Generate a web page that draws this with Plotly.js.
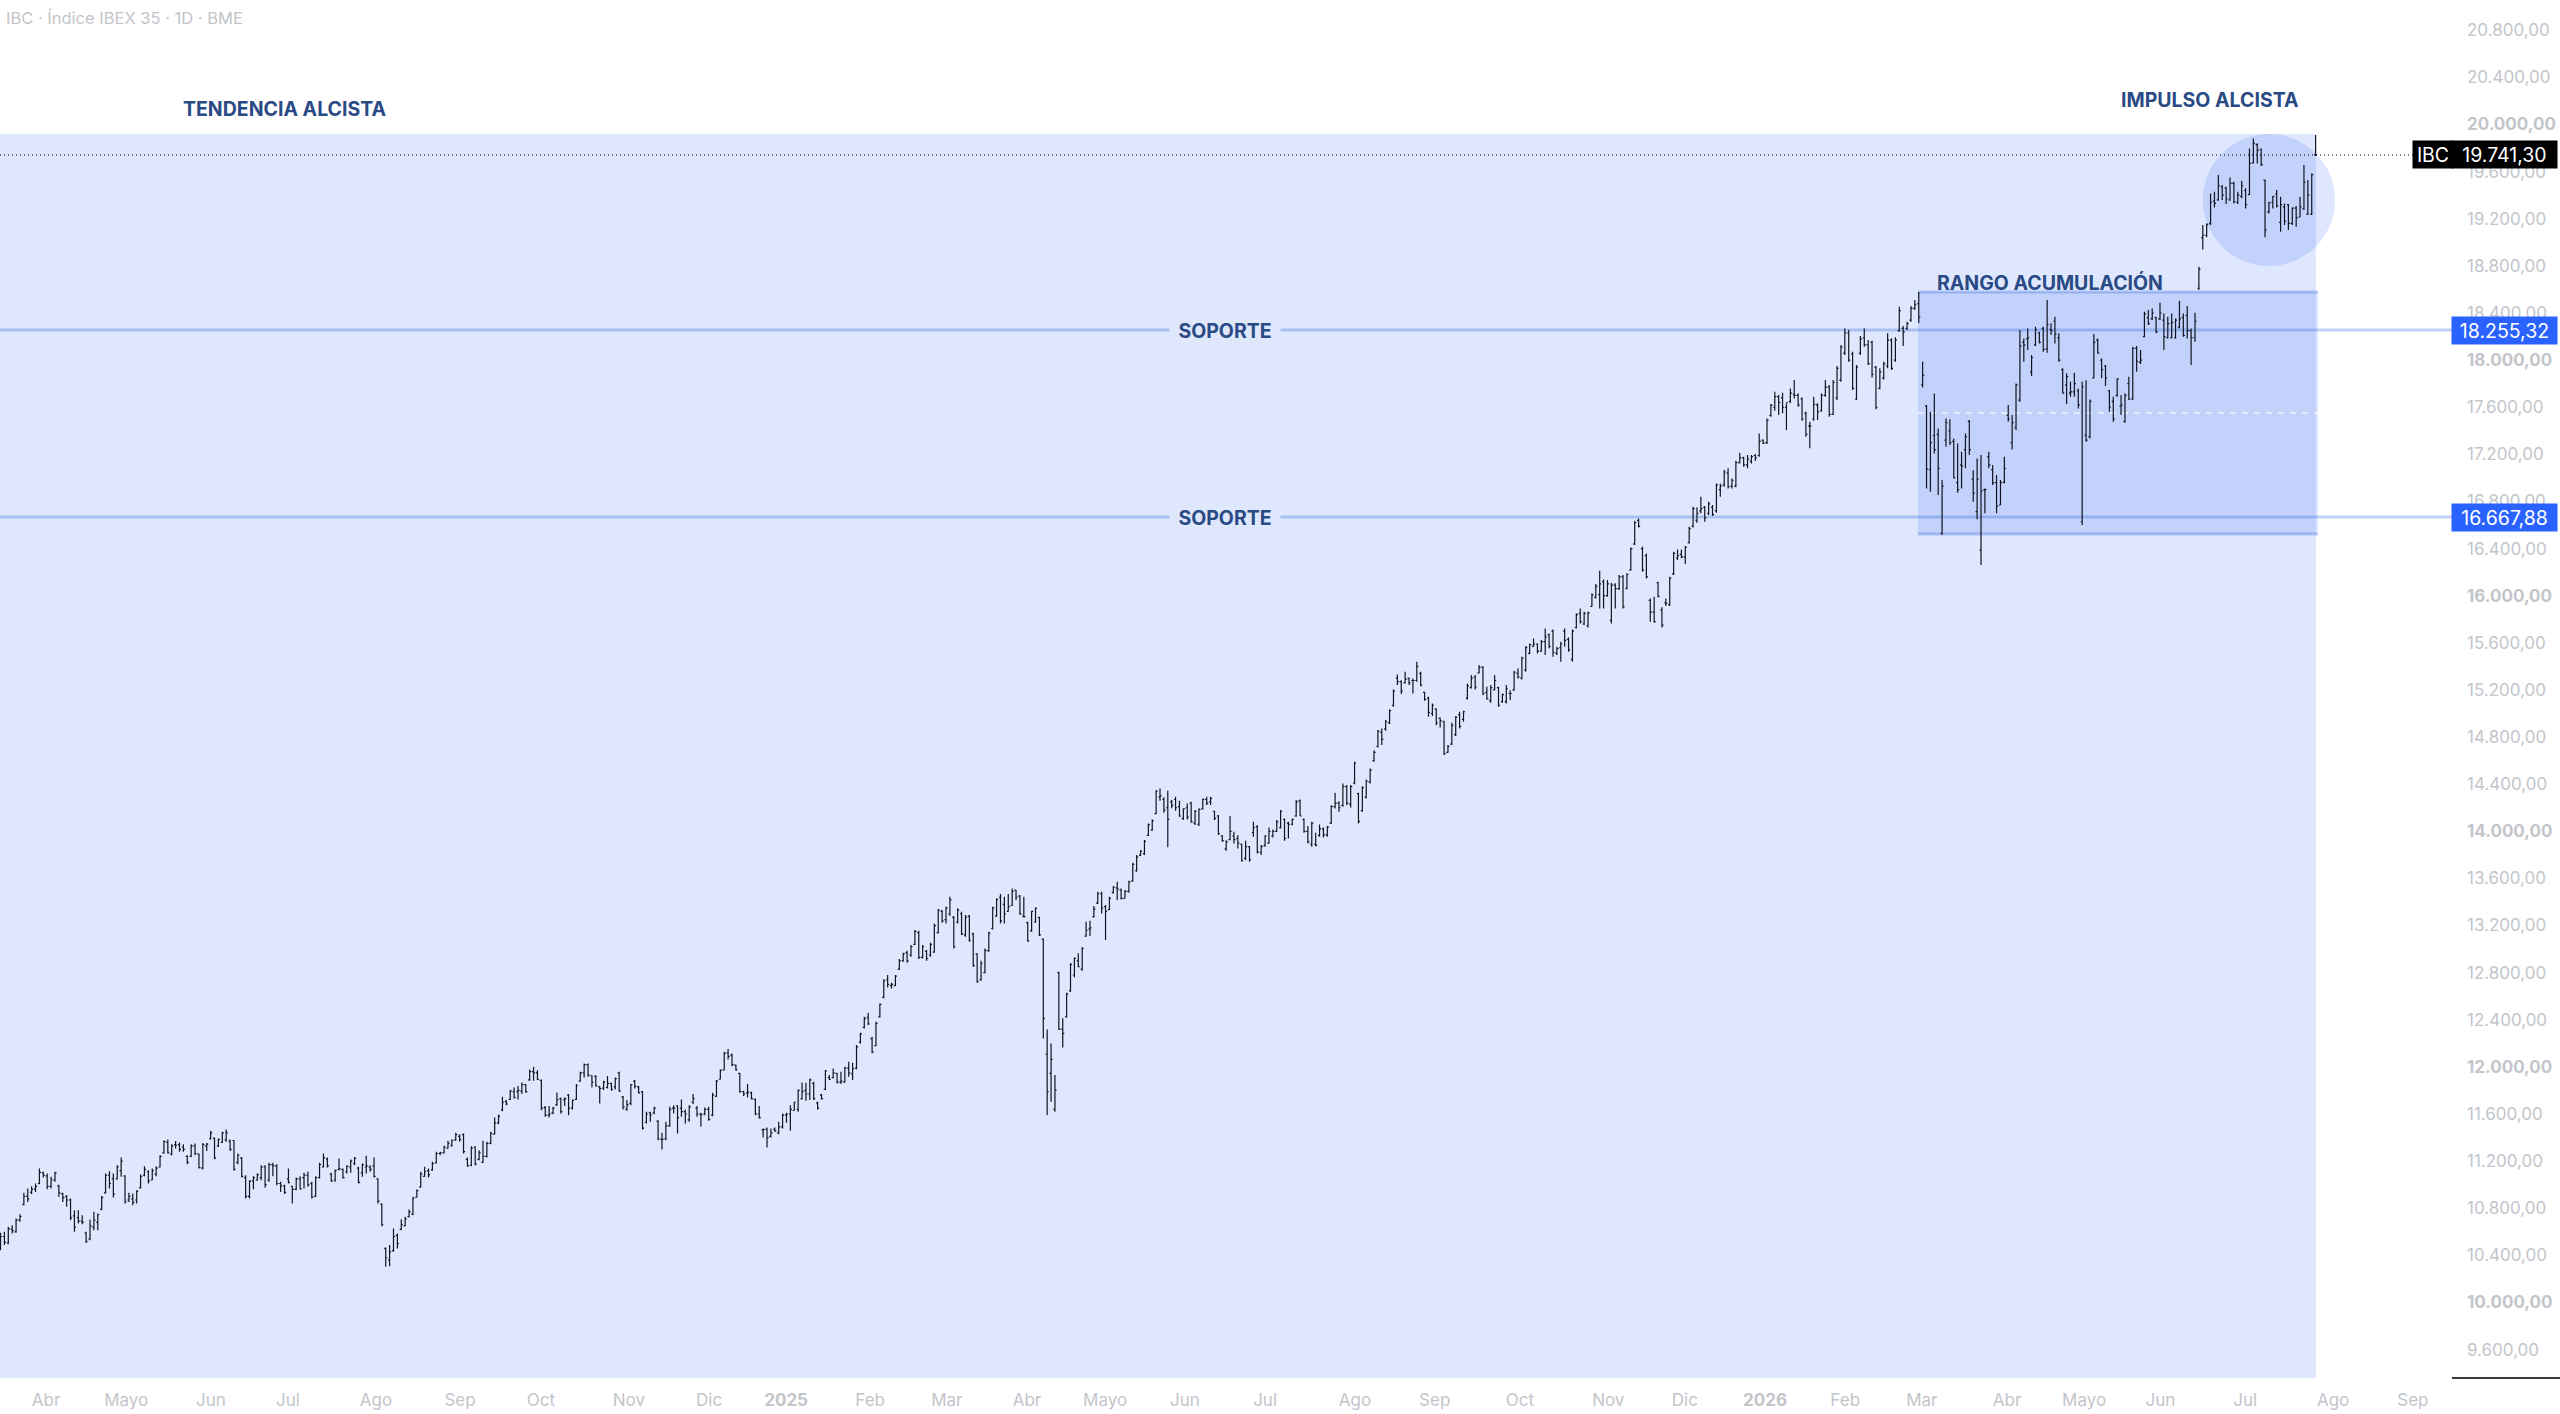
<!DOCTYPE html>
<html><head><meta charset="utf-8">
<script src="https://cdn.plot.ly/plotly-3.0.1.min.js"></script>
<style>html,body{margin:0;padding:0;background:#fff}</style></head>
<body><div id="chart" style="width:2560px;height:1414px"></div>
<script>
const high=[
10591,10600,10642,10656,10713,10750,10931,10968,10987,11010,11137,11109,11095,11067,11109,10999,10931,10911,10883,10784,
10784,10741,10600,10704,10770,10755,10903,11095,11115,11095,11166,11231,11081,10931,10925,10953,11086,11157,11123,11137,
11157,11251,11378,11384,11344,11370,11358,11344,11251,11344,11350,11265,11355,11355,11457,11398,11392,11449,11469,
11384,11378,11265,11236,11081,11038,11072,11095,11166,11166,11186,11186,11174,11024,10999,11137,10987,11061,11072,11101,
11109,11024,11072,11186,11265,11231,11101,11129,11222,11137,11166,11214,11236,11152,11180,11245,11166,11231,11053,10840,
10467,10487,10628,10586,10707,10727,10790,10897,10959,11109,11152,11138,11194,11279,11279,11330,11373,11384,11440,11429,
11435,11231,11327,11327,11293,11373,11364,11449,11571,11596,11746,11718,11803,11825,11837,11868,11854,11978,12001,11972,
11893,11667,11667,11661,11783,11740,11740,11769,11723,11854,11958,12029,12029,11930,11930,11837,11882,11922,11865,11910,
11958,11752,11718,11854,11888,11837,11794,11619,11619,11661,11548,11440,11534,11661,11675,11675,11723,11639,11675,11769,
11667,11610,11656,11661,11780,11888,11978,12128,12151,12114,12021,11950,11797,11854,11789,11732,11667,11477,11486,11477,
11486,11534,11605,11610,11675,11704,11808,11868,11865,11902,11873,11704,11769,11973,11931,11987,11950,11959,12001,12044,
12035,12185,12290,12426,12460,12256,12383,12539,12743,12780,12715,12780,12915,12969,12986,13034,13162,13156,13034,12992,
13054,13218,13340,13331,13360,13445,13281,13346,13317,13289,13289,13139,12964,12901,13006,13148,13360,13431,13467,13445,
13467,13515,13501,13459,13445,13232,13326,13354,13275,13091,12318,12199,11931,12808,12412,12630,12879,12930,12964,13015,
13232,13241,13365,13487,13487,13374,13445,13535,13572,13515,13501,13581,13733,13798,13841,13926,14067,14101,14350,14364,
14288,14345,14265,14294,14260,14195,14237,14251,14180,14195,14280,14294,14294,14175,14138,13968,13925,14129,13996,
13967,13897,13919,13874,14081,14052,13883,13967,14033,14015,14095,14180,14109,14081,14109,14265,14270,14109,14044,14081,
13987,14058,14033,14044,14222,14327,14256,14406,14392,14392,14590,14327,14383,14440,14533,14689,14859,14873,14944,
15034,15204,15331,15283,15354,15306,15297,15439,15354,15184,15142,15085,15043,14966,14938,14732,14921,14978,15015,15023,
15255,15326,15326,15411,15402,15227,15241,15326,15227,15170,15241,15198,15363,15382,15481,15572,15595,15637,15595,15623,
15722,15680,15714,15567,15609,15722,15646,15714,15850,15892,15864,15864,16020,16099,16212,16138,16133,16110,
16105,16175,16175,16190,16410,16637,16656,16416,16359,15977,15991,16119,15901,15977,16161,16373,16393,16393,16421,16586,
16755,16750,16840,16761,16798,16770,16953,16953,17067,17081,16996,17146,17214,17180,17194,17194,17203,17378,17327,17505,
17627,17732,17703,17723,17633,17760,17831,17718,17684,17562,17477,17689,17633,17718,17831,17788,17831,17950,
18128,18269,18255,18071,17958,18204,18269,18170,18165,17950,17930,17986,18227,18185,18193,18453,18289,18326,18459,18510,
18578,17986,17618,17562,17717,17420,16982,17505,17497,17335,17293,17222,17378,17491,17066,17165,17194,16911,17222,17109,
17024,16982,17180,17618,17533,17802,18255,18184,18269,18043,18283,18241,18283,18510,18312,18368,18227,17930,17887,17816,
17893,17760,17816,17830,17666,18221,18184,18014,17958,17746,17689,17845,17703,17717,17859,18113,18119,18085,18411,18425,
18439,18368,18487,18396,18368,18396,18354,18504,18396,18459,18269,18402,18793,19146,19161,19415,19429,19571,19486,
19472,19551,19514,19429,19523,19458,19797,19882,19840,19797,19534,19345,19393,19444,19387,19330,19325,19296,19308,19387,
19656,19528,19585,19911];
const low=[
10444,10487,10495,10586,10591,10685,10826,10854,10920,10939,11004,11061,10962,10968,11024,10897,10854,10812,10699,10600,
10670,10665,10506,10529,10614,10614,10784,10925,10968,10891,11044,11067,10840,10854,10826,10840,10968,11072,11010,11038,
11072,11146,11265,11265,11251,11307,11279,11279,11174,11236,11251,11137,11129,11287,11384,11217,11321,11355,11364,
11287,11118,11174,11061,10883,10883,10962,11033,11038,10973,11024,11072,10996,10939,10920,11010,10840,10953,10959,10968,
10982,10883,10897,11052,11146,11146,11024,11024,11123,11052,11095,11101,11166,11010,11067,11095,11109,11061,10840,10648,
10303,10308,10430,10458,10614,10648,10722,10741,10891,10976,11067,11061,11118,11180,11251,11265,11307,11322,11373,11364,
11265,11152,11157,11166,11208,11186,11231,11344,11429,11514,11624,11675,11718,11732,11723,11769,11780,11882,11882,11888,
11633,11576,11571,11599,11667,11605,11667,11590,11639,11718,11873,11910,11916,11825,11831,11689,11803,11817,11797,11808,
11789,11639,11627,11675,11817,11774,11469,11520,11534,11599,11378,11299,11378,11491,11605,11435,11576,11520,11534,11684,
11576,11491,11590,11542,11582,11746,11893,11972,12063,12006,11967,11780,11752,11740,11723,11590,11562,11401,11316,11401,
11449,11429,11477,11525,11457,11627,11619,11723,11712,11718,11718,11639,11723,11803,11888,11902,11860,11854,11866,11917,
11888,11979,12199,12327,12355,12115,12177,12420,12582,12675,12666,12686,12822,12893,12884,12935,13034,12916,12921,12901,
12935,12969,13133,13224,13218,13281,13006,13218,13119,13105,13063,12850,12715,12732,12794,12978,13167,13275,13218,13218,
13317,13365,13416,13289,13269,13063,13148,13224,13111,12242,11591,11704,11619,12313,12165,12420,12638,12760,12845,12816,
13105,13111,13269,13382,13303,13077,13331,13473,13416,13422,13431,13479,13572,13657,13790,13798,13960,14005,14147,14260,
14158,13864,14195,14175,14124,14096,14101,14073,14053,14045,14186,14223,14223,14096,13968,13912,13835,13925,13897,
13854,13741,13755,13741,13953,13812,13798,13868,13897,13948,13996,14024,13919,13939,14052,14123,14129,13987,13897,13868,
13874,13953,13948,13953,14061,14194,14166,14208,14222,14202,14400,14067,14165,14279,14406,14590,14712,14732,14853,
14910,15057,15241,15165,15255,15241,15170,15269,15232,15108,14972,14978,14901,14882,14647,14666,14732,14808,14873,14930,
15119,15213,15204,15340,15156,15119,15091,15198,15057,15091,15085,15114,15193,15298,15289,15354,15504,15566,15510,15524,
15496,15553,15482,15496,15439,15567,15524,15439,15722,15765,15751,15731,15906,15977,15892,15892,15991,15765,
15892,16048,15892,16054,16212,16430,16580,16204,16147,15779,15771,15986,15731,15912,15912,16175,16303,16317,16269,16444,
16580,16620,16699,16628,16685,16676,16704,16840,16925,16911,16911,16920,17123,17095,17081,17123,17146,17180,17287,17287,
17519,17570,17534,17548,17406,17633,17675,17604,17486,17350,17251,17486,17491,17562,17689,17519,17534,17661,
17817,18043,17986,17746,17661,18043,18114,17958,17853,17582,17752,17836,17930,17916,17986,18241,18119,18255,18326,18425,
18314,17768,16911,16882,17208,16854,16515,17265,17279,16996,16874,16911,17081,17194,16798,16648,16260,16699,17081,16939,
16699,16769,16953,17477,17242,17406,17647,17986,18085,17865,18119,18142,18071,18063,18213,18142,17986,17717,17627,17689,
17689,17590,16600,17307,17335,17845,18057,17845,17780,17562,17477,17689,17533,17468,17661,17661,17901,17966,18193,18297,
18340,18227,18340,18085,18184,18184,18184,18269,18198,18184,17958,18156,18595,18940,19042,19146,19296,19353,19359,
19325,19353,19330,19325,19373,19288,19401,19670,19670,19647,19042,19245,19288,19296,19090,19146,19104,19146,19132,19212,
19274,19231,19231,19732];
const open=[
10470,10560,10505,10625,10600,10700,10830,10900,10935,10965,11010,11100,11075,10985,11040,10990,10925,10900,10870,10735,
10720,10690,10590,10540,10640,10680,10790,10930,11080,11050,11050,11120,11075,10870,10880,10870,10975,11080,11110,11040,
11090,11150,11270,11360,11260,11340,11340,11320,11240,11240,11330,11260,11140,11330,11390,11395,11330,11360,11380,
11370,11375,11190,11225,11060,10900,11030,11040,11060,11150,11040,11170,11160,11010,10990,11050,10985,10960,11050,11060,
11080,11010,10900,11060,11150,11220,11090,11040,11130,11130,11110,11150,11180,11140,11100,11150,11150,11160,11050,10835,
10460,10360,10440,10570,10620,10650,10730,10750,10895,10980,11070,11120,11125,11185,11265,11270,11310,11335,11380,11410,
11425,11215,11165,11320,11215,11190,11240,11350,11430,11525,11635,11705,11725,11790,11790,11795,11850,11890,11960,11950,
11885,11655,11590,11610,11680,11730,11720,11760,11650,11725,11880,11950,12020,11925,11920,11830,11820,11825,11860,11830,
11950,11745,11640,11690,11880,11830,11790,11530,11610,11610,11540,11385,11390,11500,11650,11670,11650,11620,11550,11700,
11650,11600,11600,11640,11590,11750,11895,11975,12120,12100,12015,11945,11790,11780,11780,11725,11600,11465,11470,11410,
11470,11440,11490,11590,11600,11630,11640,11730,11800,11770,11860,11695,11760,11810,11910,11910,11945,11870,11870,11990,
11940,11990,12210,12335,12420,12240,12180,12425,12590,12740,12690,12690,12830,12900,12970,12950,13040,13140,12930,12980,
12950,12975,13140,13320,13250,13300,13270,13230,13300,13120,13280,13130,12960,12740,12800,12985,13175,13280,13440,13380,
13320,13370,13500,13450,13280,13225,13155,13230,13270,13085,12109,11945,11640,12800,12320,12425,12645,12780,12900,12830,
13110,13170,13275,13390,13470,13360,13335,13480,13520,13500,13430,13490,13580,13665,13795,13810,13965,14010,14150,14290,
14270,14200,14250,14270,14210,14110,14200,14240,14070,14060,14190,14270,14250,14170,14130,13960,13850,13930,13960,
13940,13890,13770,13870,13990,14040,13820,13880,13900,13960,14000,14030,14100,14070,14060,14130,14260,14100,14000,13890,
13890,13965,14020,13970,14070,14210,14240,14220,14380,14230,14410,14320,14175,14290,14420,14600,14720,14840,14870,
14920,15070,15300,15270,15260,15300,15280,15280,15340,15180,15130,15000,15040,14960,14930,14670,14740,14820,14990,14950,
15130,15220,15310,15345,15395,15180,15110,15200,15220,15100,15100,15170,15200,15340,15300,15370,15510,15570,15590,15530,
15610,15670,15700,15510,15560,15700,15630,15460,15730,15850,15760,15745,15910,15985,16010,16120,16000,15790,
16090,16060,16160,16060,16220,16440,16640,16400,16340,15960,15860,16110,15880,15940,15925,16185,16320,16350,16330,16450,
16590,16640,16720,16750,16700,16750,16720,16900,16940,17040,16930,16930,17130,17170,17110,17140,17190,17190,17320,17300,
17530,17600,17690,17680,17600,17650,17710,17700,17670,17550,17440,17500,17620,17570,17700,17770,17540,17680,
17830,18060,18230,18050,17670,18060,18190,18130,18150,17940,17760,17850,17950,18170,18000,18250,18270,18270,18340,18440,
18480,17790,17610,17070,17360,17370,16530,17320,17400,17310,16960,17110,17240,17480,16990,16713,16387,16900,17180,17070,
16960,16770,16965,17530,17300,17430,17660,18150,18180,17900,18130,18230,18270,18095,18260,18330,18190,17920,17790,17720,
17730,17740,16628,17363,17350,17850,18170,18000,17950,17740,17650,17700,17610,17480,17800,17670,18100,17980,18200,18360,
18350,18360,18350,18340,18190,18190,18190,18280,18360,18380,18250,18190,18610,19040,19060,19160,19350,19360,19470,
19460,19360,19500,19340,19390,19440,19405,19675,19830,19790,19525,19260,19340,19410,19170,19300,19320,19160,19290,19215,
19285,19240,19240,19745];
const close=[
10560,10510,10625,10610,10700,10730,10900,10880,10960,10985,11105,11080,10985,11040,11100,10930,10890,10870,10720,10640,
10690,10680,10520,10650,10700,10745,10890,11080,11010,10920,11150,11200,10855,10900,10850,10945,11070,11130,11030,11120,
11140,11240,11365,11270,11330,11335,11300,11300,11190,11330,11265,11145,11340,11345,11440,11225,11385,11440,11440,
11300,11130,11250,11070,10900,11030,11060,11085,11150,11000,11170,11160,11010,10990,10935,11020,10960,11050,10965,11080,
11000,10895,11060,11170,11230,11160,11030,11120,11135,11060,11155,11200,11225,11020,11170,11160,11130,11070,10860,10660,
10380,10430,10560,10500,10660,10710,10770,10885,10950,11090,11110,11085,11180,11265,11270,11320,11350,11375,11425,11385,
11280,11160,11310,11175,11270,11240,11350,11435,11525,11580,11700,11685,11795,11740,11800,11850,11790,11960,11950,11895,
11650,11590,11600,11650,11720,11620,11730,11650,11715,11840,11950,12020,11930,11870,11840,11815,11870,11860,11810,11900,
11795,11660,11680,11850,11835,11780,11480,11600,11590,11650,11390,11385,11500,11640,11650,11570,11620,11600,11660,11730,
11600,11595,11640,11555,11760,11880,11970,12115,12090,12020,11975,11790,11770,11785,11730,11600,11570,11470,11400,11440,
11455,11490,11590,11600,11640,11700,11800,11790,11770,11890,11730,11650,11730,11965,11895,11950,11870,11880,11990,11950,
11985,12170,12280,12410,12365,12125,12370,12530,12730,12700,12700,12770,12900,12960,12900,13020,13150,12930,13020,12920,
13040,13200,13330,13240,13350,13420,13020,13330,13130,13270,13075,12860,12725,12880,12990,13135,13350,13420,13240,13300,
13360,13490,13440,13300,13275,13070,13320,13345,13120,12412,11789,12064,11803,12320,12285,12620,12870,12920,12850,13005,
13160,13180,13340,13470,13350,13320,13430,13525,13510,13430,13490,13570,13720,13780,13830,13915,14055,14090,14340,14300,
14180,14101,14220,14200,14130,14190,14120,14080,14170,14185,14270,14240,14280,14110,13980,13920,13910,14000,13930,
13900,13750,13870,13760,14030,13825,13870,13960,14000,14000,14080,14170,13940,14060,14100,14250,14130,14000,13910,14070,
13880,14020,13970,14035,14210,14240,14200,14380,14240,14380,14580,14085,14370,14425,14520,14670,14850,14780,14930,
15025,15190,15270,15190,15290,15260,15280,15400,15240,15120,15010,15070,14920,14940,14660,14720,14900,14970,14890,15015,
15235,15300,15225,15390,15170,15125,15220,15280,15070,15160,15210,15170,15350,15310,15470,15560,15585,15590,15530,15610,
15650,15570,15520,15550,15590,15620,15540,15700,15840,15780,15850,15855,16005,16080,16100,16000,16100,16090,
16060,16160,15905,16180,16400,16620,16590,16220,16160,15860,15780,15995,15750,15935,16150,16360,16340,16330,16410,16570,
16740,16700,16740,16660,16780,16690,16940,16930,17050,16925,16980,17130,17170,17110,17160,17180,17170,17310,17295,17490,
17615,17690,17640,17600,17640,17720,17700,17620,17500,17370,17440,17625,17560,17700,17770,17540,17810,17930,
18110,18230,18000,17760,17940,18180,18130,17970,17880,17600,17900,17970,18170,17930,18170,18420,18240,18310,18440,18470,
18365,17870,17075,17300,17240,17080,16930,17470,17300,17000,16900,17100,17350,17240,16870,16990,16888,16900,17110,16960,
16760,16960,17080,17500,17470,17790,18120,18130,18190,18020,18260,18150,18090,18300,18250,18220,18000,17720,17860,17730,
17800,17620,17774,17320,17650,18150,18060,17920,17850,17600,17500,17840,17620,17700,17670,18100,17990,18000,18390,18310,
18400,18240,18400,18200,18310,18320,18340,18350,18210,18250,18190,18330,18770,19060,19150,19340,19330,19480,19400,
19370,19500,19345,19400,19480,19320,19670,19840,19780,19660,19105,19335,19390,19310,19320,19180,19160,19290,19210,19300,
19510,19400,19575,19741.3];
const barIndex=high.map((_,i)=>i);

const priceTicks=[9600,10000,10400,10800,11200,11600,12000,12400,12800,13200,13600,14000,14400,14800,15200,15600,16000,16400,16800,17200,17600,18000,18400,18800,19200,19600,20000,20400,20800];
const priceTickText=['9.600,00','<b>10.000,00</b>','10.400,00','10.800,00','11.200,00','11.600,00','<b>12.000,00</b>','12.400,00','12.800,00','13.200,00','13.600,00','<b>14.000,00</b>','14.400,00','14.800,00','15.200,00','15.600,00','<b>16.000,00</b>','16.400,00','16.800,00','17.200,00','17.600,00','<b>18.000,00</b>','18.400,00','18.800,00','19.200,00','19.600,00','<b>20.000,00</b>','20.400,00','20.800,00'];
const monthTicks=[11.7,32.3,54.1,73.9,96.5,118.1,138.9,161.5,182.1,201.9,223.5,243.2,263.8,283.9,304.4,325,348.1,368.6,390.5,413.2,432.9,453.5,474.1,493.8,515.7,535.5,555.1,576.9,599.5,620];
const monthLabels=['Abr','Mayo','Jun','Jul','Ago','Sep','Oct','Nov','Dic','<b>2025</b>','Feb','Mar','Abr','Mayo','Jun','Jul','Ago','Sep','Oct','Nov','Dic','<b>2026</b>','Feb','Mar','Abr','Mayo','Jun','Jul','Ago','Sep'];

const lastPrice=19741.30, support1=18255.32, support2=16667.88;
const trendTop=19919, rangeTop=18578, rangeBottom=16523, rangeMid=17551, circleBottom=18799;
const xMin=-0.13, xMax=630.05, yMin=9359, yMax=21057;

const fillBlue='rgba(45,100,240,0.155)', lineBlue='rgba(45,100,220,0.3)', titleBlue='#2a4a85';
const fontName='Inter, "Noto Sans", sans-serif', grey='#c3c5ca';

const hline=(x0,x1,y,color,width,dash)=>({type:'line',xref:'x',yref:'y',x0,x1,y0:y,y1:y,layer:'below',line:{color,width,dash:dash||'solid'}});
const shapes=[
 {type:'rect',xref:'x',yref:'y',x0:xMin,x1:595.1,y0:yMin,y1:trendTop,layer:'below',fillcolor:fillBlue,line:{width:0}},
 {type:'rect',xref:'x',yref:'y',x0:492.8,x1:595.6,y0:rangeBottom,y1:rangeTop,layer:'below',fillcolor:fillBlue,line:{width:0}},
 {type:'circle',xref:'x',yref:'y',x0:566,x1:600,y0:circleBottom,y1:trendTop,layer:'below',fillcolor:fillBlue,line:{width:0}},
 hline(492.8,595.6,rangeTop,lineBlue,3),
 hline(492.8,595.6,rangeBottom,lineBlue,3),
 hline(492.8,595.6,rangeMid,'rgba(255,255,255,0.75)',1.5,'6px,6px'),
 hline(xMin,xMax,support1,lineBlue,3),
 hline(xMin,xMax,support2,lineBlue,3),
 hline(xMin,620.2,lastPrice,'#000000',1.2,'1px,3px'),
 {type:'line',xref:'paper',yref:'paper',x0:1,x1:1.045,y0:0,y1:0,line:{color:'#3a3a3e',width:2}}
];
const label=(text,x,y)=>({text:'<b>'+text+'</b>',x,y,xref:'x',yref:'y',showarrow:false,font:{family:fontName,size:19.5,color:titleBlue}});
const soporte=(y)=>({text:'<b>SOPORTE</b>',x:314.7,y,xref:'x',yref:'y',yshift:-1,showarrow:false,bgcolor:'#dee7fc',width:108,height:22,font:{family:fontName,size:19.5,color:titleBlue}});
const tag=(text,y,bg,cx,w)=>({text,x:cx/2452,y,xref:'paper',yref:'y',xanchor:'center',showarrow:false,bgcolor:bg,width:w,height:25,font:{family:fontName,size:19.5,color:'#ffffff'}});
const annotations=[
 {text:'IBC · Índice IBEX 35 · 1D · BME',x:0.9,y:20904,xref:'x',yref:'y',xanchor:'left',showarrow:false,font:{family:fontName,size:16.5,color:grey}},
 label('TENDENCIA ALCISTA',73.1,20132),
 label('IMPULSO ALCISTA',567.9,20208),
 label('RANGO ACUMULACIÓN',526.7,18654),
 soporte(support1),
 soporte(support2),
 tag('IBC',lastPrice,'#000000',2433,38),
 tag('19.741,30',lastPrice,'#000000',2504.5,103),
 tag('18.255,32',support1,'#2962ff',2504.5,103),
 tag('16.667,88',support2,'#2962ff',2504.5,103)
];

Plotly.newPlot('chart',[{
  type:'ohlc',x:barIndex,open,high,low,close,tickwidth:0.4,hoverinfo:'skip',
  increasing:{line:{color:'#12151f',width:1.2}},decreasing:{line:{color:'#12151f',width:1.2}}
}],{
  width:2560,height:1414,autosize:false,showlegend:false,
  margin:{l:0,r:108,t:0,b:36,pad:0},paper_bgcolor:'#ffffff',plot_bgcolor:'#ffffff',
  xaxis:{type:'linear',range:[xMin,xMax],tickmode:'array',tickvals:monthTicks,ticktext:monthLabels,showgrid:false,zeroline:false,showline:false,ticks:'',
    rangeslider:{visible:false},tickangle:0,ticklabelstandoff:10,tickfont:{family:fontName,size:17,color:grey}},
  yaxis:{type:'linear',side:'right',range:[yMin,yMax],tickmode:'array',tickvals:priceTicks,ticktext:priceTickText,showgrid:false,zeroline:false,showline:false,ticks:'',
    ticklabelstandoff:14,tickfont:{family:fontName,size:17,color:grey}},
  shapes,annotations
},{staticPlot:true,displayModeBar:false});
</script></body></html>
